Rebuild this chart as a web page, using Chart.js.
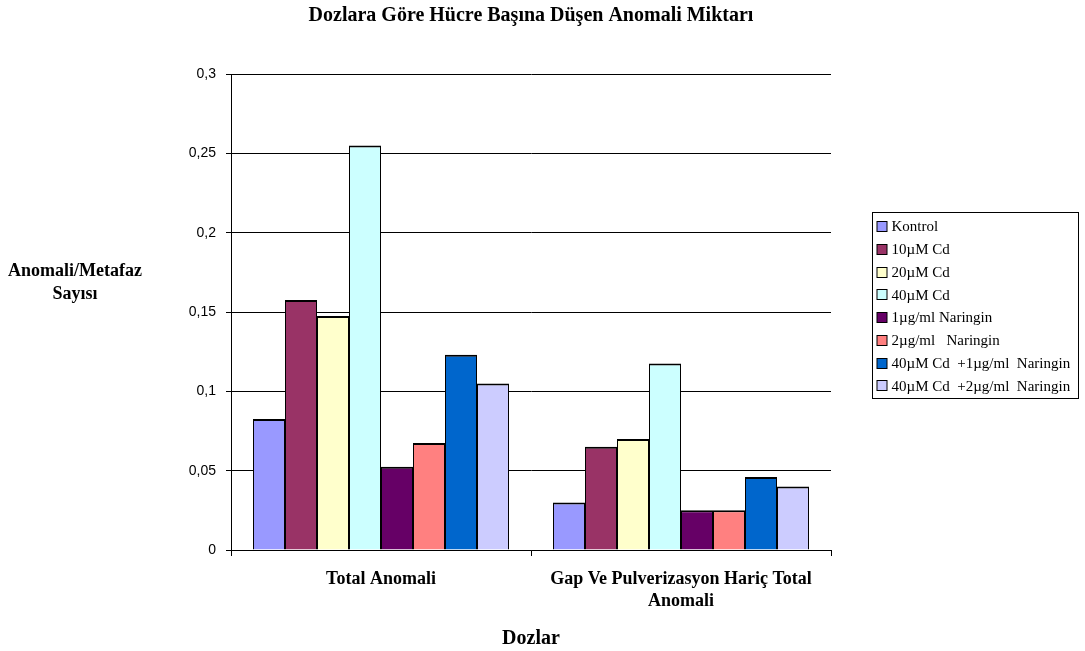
<!DOCTYPE html>
<html><head><meta charset="utf-8">
<script src="https://cdn.jsdelivr.net/npm/chart.js@4/dist/chart.umd.min.js"></script>
<style>html,body{margin:0;padding:0;background:#fff}</style>
</head><body>
<canvas id="c" width="1085" height="651"></canvas>
<script>
// ---- data ----
const categories = [["Total Anomali"], ["Gap Ve Pulverizasyon Hariç Total", "Anomali"]];
const seriesNames = ["Kontrol", "10µM Cd", "20µM Cd", "40µM Cd", "1µg/ml Naringin", "2µg/ml   Naringin", "40µM Cd  +1µg/ml  Naringin", "40µM Cd  +2µg/ml  Naringin"];
const totalAnomali = [0.0825, 0.1575, 0.1475, 0.255, 0.0525, 0.0675, 0.123, 0.105];
const gapHaricAnomali = [0.03, 0.065, 0.07, 0.1175, 0.025, 0.025, 0.046, 0.04];
const chartTitle = "Dozlara Göre Hücre Başına Düşen Anomali Miktarı";
const yTitleLines = ["Anomali/Metafaz", "Sayısı"];
const xTitle = "Dozlar";

// ---- styles ----
const seriesColors = ["#9999FF", "#993366", "#FFFFCC", "#CCFFFF", "#660066", "#FF8080", "#0066CC", "#CCCCFF"];
const SERIF = "'Liberation Serif', 'Times New Roman', serif";
const SANS = "'Liberation Sans', Arial, sans-serif";

const datasets = seriesNames.map((name, i) => ({
  label: name,
  data: [totalAnomali[i], gapHaricAnomali[i]],
  backgroundColor: seriesColors[i],
  borderColor: "#000",
  borderWidth: { top: 2, left: 1, right: 1, bottom: 0 },
  borderSkipped: "bottom",
  inflateAmount: 0,
  categoryPercentage: 256 / 300,
  barPercentage: 1.0
}));

const extras = {
  id: "extras",
  afterDraw(chart) {
    const ctx = chart.ctx;
    const area = chart.chartArea;
    ctx.save();
    // y-axis title (horizontal)
    ctx.fillStyle = "#000";
    ctx.font = "bold 18px " + SERIF;
    ctx.textAlign = "center";
    ctx.textBaseline = "alphabetic";
    yTitleLines.forEach((t, i) => ctx.fillText(t, 75, 276 + i * 23));
    // legend
    const lx = area.right + 41.5, ly = 212.5, lw = 206, lh = 186;
    ctx.strokeStyle = "#000";
    ctx.lineWidth = 1;
    ctx.strokeRect(lx, ly, lw, lh);
    ctx.font = "15px " + SERIF;
    ctx.textAlign = "left";
    ctx.textBaseline = "middle";
    chart.data.datasets.forEach((ds, i) => {
      const cy = 226.5 + i * 22.75;
      ctx.fillStyle = ds.backgroundColor;
      ctx.fillRect(lx + 4.5, Math.round(cy - 5.5) + 0.5, 10, 10);
      ctx.strokeStyle = "#000";
      ctx.strokeRect(lx + 4.5, Math.round(cy - 5.5) + 0.5, 10, 10);
      ctx.fillStyle = "#000";
      ctx.fillText(ds.label, lx + 19, cy + 1);
    });
    ctx.restore();
  }
};

new Chart(document.getElementById("c"), {
  type: "bar",
  data: { labels: categories, datasets },
  plugins: [extras],
  options: {
    responsive: false,
    animation: false,
    devicePixelRatio: 1,
    layout: { padding: { top: 0, left: 0, right: 254, bottom: 0 } },
    plugins: {
      legend: { display: false },
      tooltip: { enabled: false },
      title: {
        display: true,
        text: chartTitle,
        fullSize: false,
        color: "#000",
        font: { family: SERIF, size: 20, weight: "bold", lineHeight: 1.2 },
        padding: { top: 4, bottom: 46 }
      }
    },
    scales: {
      x: {
        offset: true,
        grid: { offset: true, drawOnChartArea: false, color: "#000", tickLength: 6 },
        border: { color: "#000" },
        ticks: {
          color: "#000",
          padding: 12,
          maxRotation: 0,
          font: { family: SERIF, size: 18, weight: "bold", lineHeight: 1.222 }
        },
        title: {
          display: true,
          text: xTitle,
          color: "#000",
          font: { family: SERIF, size: 20, weight: "bold", lineHeight: 1.2 },
          padding: { top: 0, bottom: 0 }
        },
        afterFit(s) { s.height = 101; }
      },
      y: {
        min: 0,
        max: 0.3,
        grid: { color: "#000", tickLength: 5 },
        border: { color: "#000" },
        ticks: {
          stepSize: 0.05,
          color: "#000",
          padding: 10,
          font: { family: SANS, size: 14 },
          callback: v => String(Number(v.toFixed(2))).replace(".", ",")
        },
        afterFit(s) { s.width = 231; }
      }
    }
  }
});
</script>
</body></html>
